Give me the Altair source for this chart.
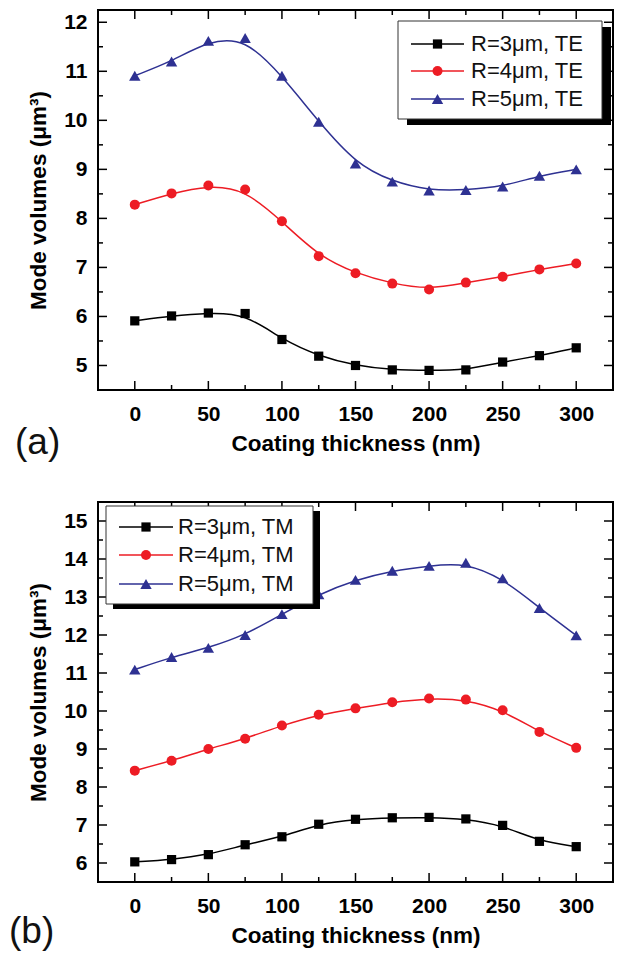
import altair as alt
import pandas as pd

# ---------------- data ----------------
thickness = [0, 25, 50, 75, 100, 125, 150, 175, 200, 225, 250, 275, 300]

te_labels = ["R=3μm, TE", "R=4μm, TE", "R=5μm, TE"]
te_r3 = [5.91, 6.01, 6.07, 6.06, 5.53, 5.19, 5.00, 4.91, 4.90, 4.91, 5.07, 5.20, 5.36]
te_r4 = [8.28, 8.51, 8.67, 8.59, 7.94, 7.23, 6.88, 6.67, 6.55, 6.69, 6.81, 6.96, 7.08]
te_r5 = [10.91, 11.20, 11.62, 11.68, 10.91, 9.97, 9.12, 8.75, 8.57, 8.58, 8.65, 8.87, 9.00]

tm_labels = ["R=3μm, TM", "R=4μm, TM", "R=5μm, TM"]
tm_r3 = [6.03, 6.09, 6.22, 6.48, 6.69, 7.02, 7.15, 7.19, 7.20, 7.16, 6.99, 6.57, 6.43]
tm_r4 = [8.43, 8.69, 9.00, 9.27, 9.62, 9.90, 10.07, 10.23, 10.33, 10.30, 10.02, 9.45, 9.03]
tm_r5 = [11.09, 11.42, 11.66, 12.00, 12.55, 13.07, 13.45, 13.69, 13.82, 13.90, 13.49, 12.71, 11.99]

x_major = [0, 50, 100, 150, 200, 250, 300]
x_minor = [25, 75, 125, 175, 225, 275]
te_y_major = [5, 6, 7, 8, 9, 10, 11, 12]
te_y_minor = [4.5, 5.5, 6.5, 7.5, 8.5, 9.5, 10.5, 11.5]
tm_y_major = [6, 7, 8, 9, 10, 11, 12, 13, 14, 15]
tm_y_minor = [5.5, 6.5, 7.5, 8.5, 9.5, 10.5, 11.5, 12.5, 13.5, 14.5]

colors = ["#000000", "#ED1C24", "#2E3192"]
shapes = ["square", "circle", "triangle-up"]
sizes = [85, 100, 130]

# ---------------- styling ----------------
W, H = 515, 380
FONT = "Liberation Sans"
MAJ, MIN = 9, 5
one = pd.DataFrame({"k": [0]})


def panel(labels, series, ydomain, ymaj, ymin, leg, tag, tag_xy):
    xs = alt.Scale(domain=[-25, 325], nice=False, zero=False)
    ys = alt.Scale(domain=ydomain, nice=False, zero=False)
    ax = alt.Axis(values=x_major, title="Coating thickness (nm)", format="d",
                  labelFont=FONT, labelFontSize=21, labelFontWeight="bold",
                  labelColor="black", ticks=False, tickSize=0, domain=False,
                  grid=False, labelPadding=13, labelFlush=False,
                  titleFont=FONT, titleFontSize=22.5, titleFontWeight="bold",
                  titleColor="black", titlePadding=8)
    ay = alt.Axis(values=ymaj, title="Mode volumes (μm³)", format="d",
                  labelFont=FONT, labelFontSize=21, labelFontWeight="bold",
                  labelColor="black", ticks=False, tickSize=0, domain=False,
                  grid=False, labelPadding=11, labelFlush=False,
                  titleFont=FONT, titleFontSize=22.5, titleFontWeight="bold",
                  titleColor="black", titlePadding=13)
    rows = []
    for lab, vals in zip(labels, series):
        for t, v in zip(thickness, vals):
            rows.append({"thickness": t, "volume": v, "series": lab})
    df = pd.DataFrame(rows)

    line = alt.Chart(df).mark_line(interpolate="basis", strokeWidth=1.5).encode(
        x=alt.X("thickness:Q", scale=xs, axis=ax),
        y=alt.Y("volume:Q", scale=ys, axis=ay),
        color=alt.Color("series:N", scale=alt.Scale(domain=labels, range=colors), legend=None),
    )
    layers = [line]
    for lab, c, s, sz in zip(labels, colors, shapes, sizes):
        layers.append(
            alt.Chart(df).transform_filter(alt.datum.series == lab)
            .mark_point(filled=True, opacity=1, shape=s, size=sz, color=c)
            .encode(x=alt.X("thickness:Q", scale=xs, axis=ax),
                    y=alt.Y("volume:Q", scale=ys, axis=ay))
        )
    # inward ticks on all four sides
    for vals, ln in ((x_major, MAJ), (x_minor, MIN)):
        d = alt.Chart(pd.DataFrame({"t": vals}))
        layers.append(d.mark_rule(color="black", strokeWidth=1.5).encode(
            x=alt.X("t:Q", scale=xs, axis=ax), y=alt.value(H), y2=alt.value(H - ln)))
        layers.append(d.mark_rule(color="black", strokeWidth=1.5).encode(
            x=alt.X("t:Q", scale=xs, axis=ax), y=alt.value(0), y2=alt.value(ln)))
    for vals, ln in ((ymaj, MAJ), (ymin, MIN)):
        d = alt.Chart(pd.DataFrame({"t": vals}))
        layers.append(d.mark_rule(color="black", strokeWidth=1.5).encode(
            y=alt.Y("t:Q", scale=ys, axis=ay), x=alt.value(0), x2=alt.value(ln)))
        layers.append(d.mark_rule(color="black", strokeWidth=1.5).encode(
            y=alt.Y("t:Q", scale=ys, axis=ay), x=alt.value(W), x2=alt.value(W - ln)))

    # legend box with shadow
    bx0, bx1, by0, by1, sdx, sdy, rowy, lx0, lx1, tx = leg
    layers.append(alt.Chart(one).mark_rect(color="black").encode(
        x=alt.value(bx0 + sdx), x2=alt.value(bx1 + sdx),
        y=alt.value(by0 + sdy), y2=alt.value(by1 + sdy)))
    layers.append(alt.Chart(one).mark_rect(fill="white", stroke="#333333", strokeWidth=1).encode(
        x=alt.value(bx0), x2=alt.value(bx1), y=alt.value(by0), y2=alt.value(by1)))
    for lab, c, s, sz, ry in zip(labels, colors, shapes, sizes, rowy):
        layers.append(alt.Chart(one).mark_rule(color=c, strokeWidth=1.5).encode(
            x=alt.value(lx0), x2=alt.value(lx1), y=alt.value(ry)))
        layers.append(alt.Chart(one).mark_point(filled=True, opacity=1, shape=s, size=sz, color=c).encode(
            x=alt.value((lx0 + lx1) / 2), y=alt.value(ry)))
        layers.append(alt.Chart(one).mark_text(align="left", baseline="middle", font=FONT,
                                               fontSize=22, color="#111111").encode(
            x=alt.value(tx), y=alt.value(ry), text=alt.value(lab)))
    # panel tag
    layers.append(alt.Chart(one).mark_text(align="left", baseline="middle", font=FONT,
                                           fontSize=37, color="#111111").encode(
        x=alt.value(tag_xy[0]), y=alt.value(tag_xy[1]), text=alt.value(tag)))

    return alt.layer(*layers).properties(
        width=W, height=H,
        view=alt.ViewBackground(stroke="black", strokeWidth=2, fill="white"),
    )


top = panel(te_labels, [te_r3, te_r4, te_r5], [4.5, 12.25], te_y_major, te_y_minor,
            (300, 504, 11, 109, 9, 6, [34, 61, 89], 313, 366, 373), "(a)", (-83, H + 53))
bottom = panel(tm_labels, [tm_r3, tm_r4, tm_r5], [5.5, 15.5], tm_y_major, tm_y_minor,
               (8, 215, 4, 102, 7, 5, [25, 53, 82], 21, 75, 80), "(b)", (-89, H + 50))

chart = alt.vconcat(top, bottom, spacing=38).properties(
    padding={"left": 0, "top": 0, "right": 0, "bottom": 0},
    background="white",
).configure_view(stroke="black", strokeWidth=2)

chart.save("out.html", embed_options={"renderer": "svg", "actions": False})
